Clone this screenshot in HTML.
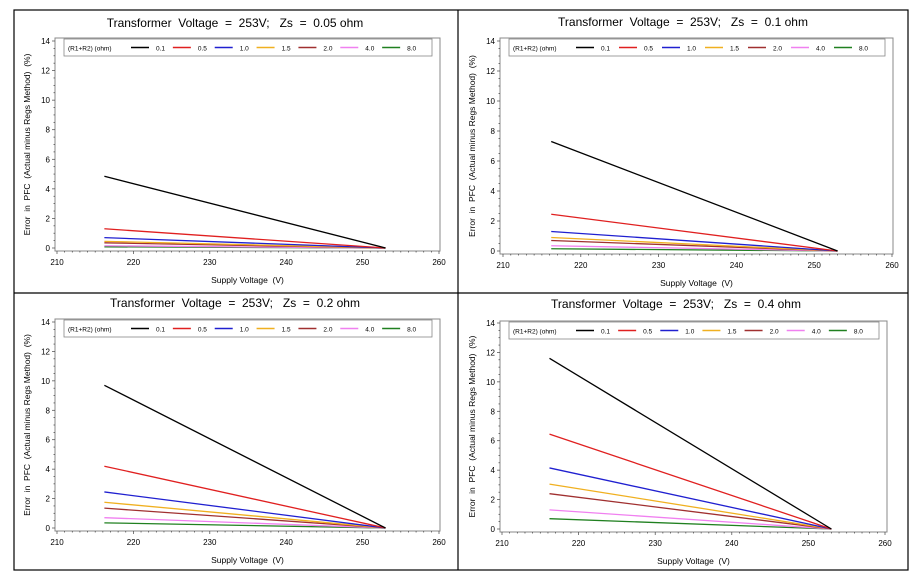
<!DOCTYPE html>
<html><head><meta charset="utf-8"><style>
html,body{margin:0;padding:0;background:#fff;}
svg{display:block;font-family:"Liberation Sans",sans-serif;}
text{white-space:pre;}
</style></head><body>
<svg id="s" width="921" height="585" xmlns="http://www.w3.org/2000/svg" xml:space="preserve">
<rect x="14" y="10" width="894" height="560" fill="none" stroke="#000" stroke-width="1.2"/>
<line x1="458" y1="10" x2="458" y2="570" stroke="#000" stroke-width="1.2"/>
<line x1="14" y1="293" x2="908" y2="293" stroke="#000" stroke-width="1.2"/>
</svg>
<script>
var s=document.getElementById('s'),NS='http://www.w3.org/2000/svg';
function el(t,a,txt){var e=document.createElementNS(NS,t);for(var k in a)e.setAttribute(k,a[k]);if(txt!=null)e.textContent=txt;s.appendChild(e);return e;}
var cols=['#000','#e02020','#2020d0','#f0b020','#a03030','#f080f0','#208020'];
var labs=['0.1','0.5','1.0','1.5','2.0','4.0','8.0'];
var P=[
{zs:'0.05',x0:57,x1:439,y0:248,y14:41,L:55,R:440,T:38,B:251,tx:235,ty:27,v:[4.85,1.3,0.7,0.45,0.35,0.15,0.08]},
{zs:'0.1',x0:503,x1:892,y0:251,y14:41,L:500,R:893,T:38,B:254,tx:683,ty:26,v:[7.3,2.45,1.3,0.9,0.7,0.35,0.15]},
{zs:'0.2',x0:57,x1:439,y0:528,y14:322,L:55,R:440,T:319,B:531,tx:235,ty:307,v:[9.7,4.2,2.45,1.75,1.35,0.7,0.35]},
{zs:'0.4',x0:502,x1:885,y0:529,y14:323,L:500,R:887,T:321,B:532,tx:676,ty:308,v:[11.6,6.45,4.15,3.05,2.4,1.3,0.7]}];
P.forEach(function(p){
 var X=function(v){return p.x0+(v-210)*(p.x1-p.x0)/50},Y=function(v){return p.y0+(p.y14-p.y0)*v/14};
 el('text',{x:p.tx,y:p.ty,'font-size':12,'text-anchor':'middle'},'Transformer  Voltage  =  253V;   Zs  =  '+p.zs+' ohm');
 el('rect',{x:p.L,y:p.T,width:p.R-p.L,height:p.B-p.T,fill:'none',stroke:'#888','stroke-width':1});
 for(var v=0;v<=14;v+=0.5){var big=v%2==0;el('line',{x1:p.L-(big?3:1.5),x2:p.L,y1:Y(v),y2:Y(v),stroke:'#444','stroke-width':0.7});}
 for(var v=0;v<=14;v+=2)el('text',{x:p.L-5,y:Y(v)+3,'font-size':8,'text-anchor':'end'},v);
 for(var v=210;v<=260;v+=1){var big=v%10==0;el('line',{x1:X(v),x2:X(v),y1:p.B,y2:p.B+(big?3:1.5),stroke:'#444','stroke-width':0.7});}
 for(var v=210;v<=260;v+=10)el('text',{x:X(v),y:p.B+14,'font-size':8,'text-anchor':'middle'},v);
 el('text',{x:(p.L+p.R)/2,y:p.B+32,'font-size':8.5,'text-anchor':'middle'},'Supply Voltage  (V)');
 var cy=(p.T+p.B)/2, lx=p.L-25;
 el('text',{x:lx,y:cy,'font-size':8.5,'text-anchor':'middle',transform:'rotate(-90 '+lx+' '+cy+')'},'Error  in  PFC  (Actual minus Regs Method)  (%)');
 var lgL=p.L+9,lgR=p.R-8;
 el('rect',{x:lgL,y:p.T+1,width:lgR-lgL,height:17,fill:'#fff',stroke:'#888','stroke-width':0.8});
 el('text',{x:lgL+4,y:p.T+12.5,'font-size':6.5},'(R1+R2) (ohm)');
 var st=lgL+67,step=(lgR-8-st)/7;
 for(var i=0;i<7;i++){var bx=st+i*step;
  el('line',{x1:bx,x2:bx+18,y1:p.T+9.5,y2:p.T+9.5,stroke:cols[i],'stroke-width':1.5});
  el('text',{x:bx+25,y:p.T+12.5,'font-size':6.5},labs[i]);}
 for(var i=6;i>=0;i--)el('line',{x1:X(216.2),y1:Y(p.v[i]),x2:X(253),y2:Y(0),stroke:cols[i],'stroke-width':1.3});
});
</script>
</body></html>
